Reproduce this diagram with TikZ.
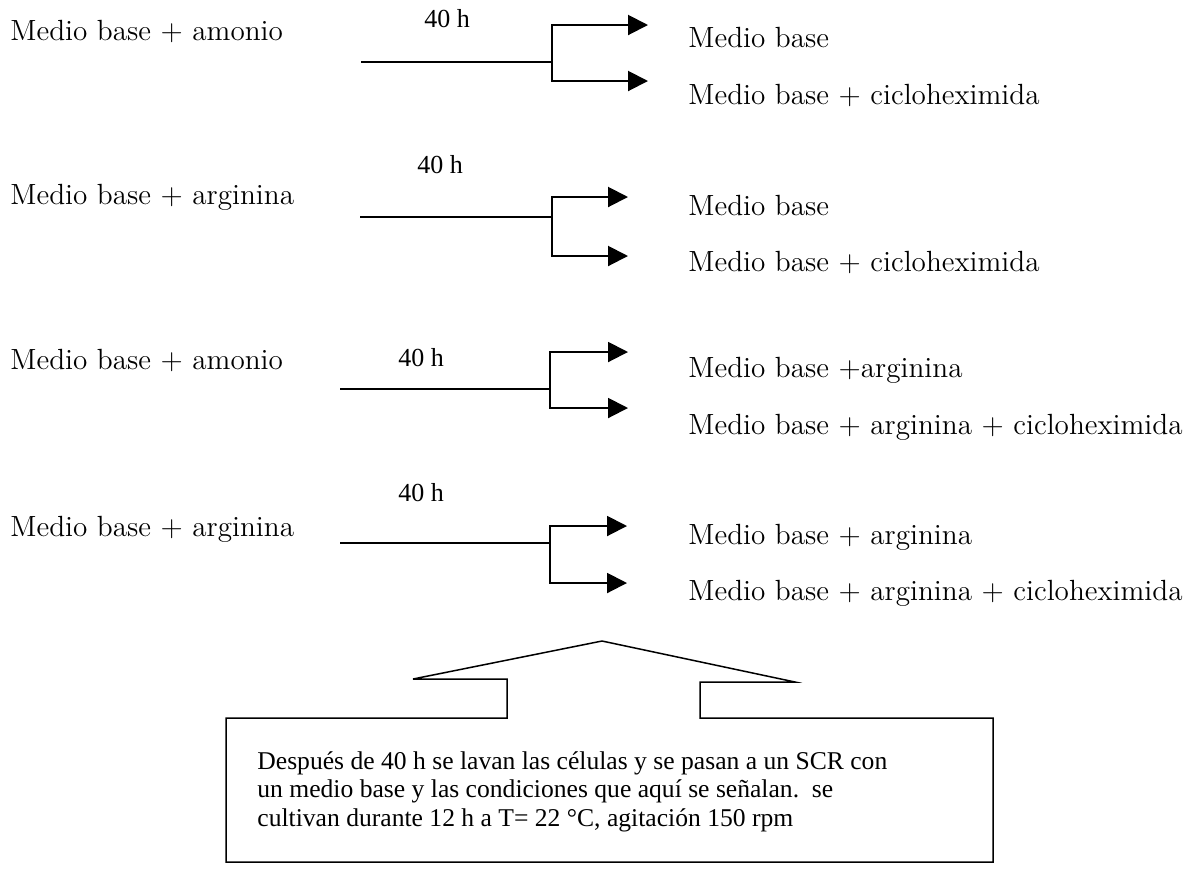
\documentclass[tikz,border=0pt]{standalone}
\usepackage{fontspec}
\newfontfamily\timesfont{Liberation Serif}
\usetikzlibrary{arrows.meta}

\begin{document}
\begin{tikzpicture}[x=0.5pt, y=-0.5pt,
    medio/.style={anchor=mid west, inner sep=0pt, font=\fontsize{14.6}{17}\selectfont},
    horas/.style={inner sep=0pt, font=\timesfont\fontsize{13}{15}\selectfont},
    linea/.style={line width=1pt},
    rama/.style={line width=1pt, -{Triangle[length=10pt, width=10pt]}},
    nota/.style={anchor=north west, inner sep=0pt, align=left, font=\timesfont\fontsize{12.8}{14.2}\selectfont}]
  \useasboundingbox (0,0) rectangle (1197,874);

  % amonio -> medio base
  \node[medio] (in1) at (10,36) {Medio base + amonio};
  \node[horas] (h1) at (447,19) {40 h};
  \coordinate (s1) at (361,62);
  \coordinate (b1) at (552,62);
  \coordinate (t1a) at (648,25);
  \coordinate (t1b) at (648,81);
  \draw[linea] (s1) -- (b1);
  \draw[rama] (b1) |- (t1a);
  \draw[rama] (b1) |- (t1b);
  \node[medio] (out1a) at (688,43) {Medio base};
  \node[medio] (out1b) at (688,100) {Medio base + cicloheximida};

  % arginina -> medio base
  \node[medio] (in2) at (10,200) {Medio base + arginina};
  \node[horas] (h2) at (440,165) {40 h};
  \coordinate (s2) at (360,217);
  \coordinate (b2) at (552,217);
  \coordinate (t2a) at (628,197);
  \coordinate (t2b) at (628,256);
  \draw[linea] (s2) -- (b2);
  \draw[rama] (b2) |- (t2a);
  \draw[rama] (b2) |- (t2b);
  \node[medio] (out2a) at (688,211) {Medio base};
  \node[medio] (out2b) at (688,267) {Medio base + cicloheximida};

  % amonio -> arginina
  \node[medio] (in3) at (10,365) {Medio base + amonio};
  \node[horas] (h3) at (421,358) {40 h};
  \coordinate (s3) at (340,389);
  \coordinate (b3) at (550,389);
  \coordinate (t3a) at (628,352);
  \coordinate (t3b) at (628,408);
  \draw[linea] (s3) -- (b3);
  \draw[rama] (b3) |- (t3a);
  \draw[rama] (b3) |- (t3b);
  \node[medio] (out3a) at (688,373) {Medio base +arginina};
  \node[medio] (out3b) at (688,430) {Medio base + arginina + cicloheximida};

  % arginina -> arginina
  \node[medio] (in4) at (10,532) {Medio base + arginina};
  \node[horas] (h4) at (421,493) {40 h};
  \coordinate (s4) at (340,543);
  \coordinate (b4) at (550,543);
  \coordinate (t4a) at (627,526);
  \coordinate (t4b) at (627,583);
  \draw[linea] (s4) -- (b4);
  \draw[rama] (b4) |- (t4a);
  \draw[rama] (b4) |- (t4b);
  \node[medio] (out4a) at (688,540) {Medio base + arginina};
  \node[medio] (out4b) at (688,596) {Medio base + arginina + cicloheximida};

  % callout
  \draw[line width=0.75pt] (226,718) -- (507,718) -- (507,679) -- (413,679) -- (602,641)
    -- (795,682) -- (700,682) -- (700,718) -- (993,718) -- (993,862) -- (226,862) -- cycle;
  \node[nota] (nota) at (257,751) {Después de 40 h se lavan las células y se pasan a un SCR con\\
    un medio base y las condiciones que aquí se señalan.\ \ se\\
    cultivan durante 12 h a T= 22 °C, agitación 150 rpm};
\end{tikzpicture}
\end{document}
